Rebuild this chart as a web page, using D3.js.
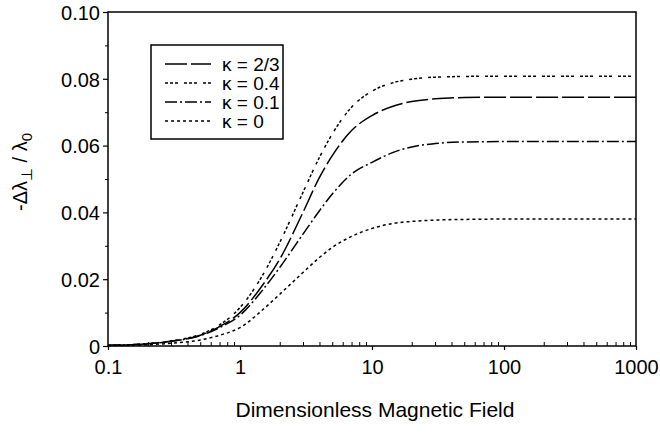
<!DOCTYPE html>
<html>
<head>
<meta charset="utf-8">
<script src="https://cdn.jsdelivr.net/npm/d3@7"></script>
<style>
  body { margin: 0; background: #fff; }
  text { font-family: "Liberation Sans", Arial, sans-serif; fill: #000; }
</style>
</head>
<body>
<div id="chart"></div>
<script>
// ------- data -------------------------------
var fieldValues = [0.1, 0.15, 0.2, 0.3, 0.5, 0.7, 1, 1.5, 2, 3, 4, 5, 7, 10, 15, 20, 30, 50, 100, 200, 500, 1000];

var kappa23 = [0.0002, 0.0004, 0.0007, 0.0014, 0.0032, 0.0058, 0.0100, 0.0185, 0.0260, 0.0400, 0.0505, 0.0570, 0.0645, 0.0690, 0.0720, 0.0732, 0.0740, 0.0744, 0.0745, 0.0745, 0.0745, 0.0745];
var kappa04 = [0.0002, 0.0004, 0.0007, 0.0015, 0.0035, 0.0063, 0.0115, 0.0215, 0.0310, 0.0460, 0.0565, 0.0635, 0.0715, 0.0763, 0.0790, 0.0799, 0.0805, 0.0807, 0.0808, 0.0808, 0.0808, 0.0808];
var kappa01 = [0.0002, 0.0004, 0.0007, 0.0014, 0.0031, 0.0055, 0.0092, 0.0170, 0.0235, 0.0335, 0.0405, 0.0455, 0.0515, 0.0550, 0.0582, 0.0596, 0.0606, 0.0611, 0.0612, 0.0612, 0.0612, 0.0612];
var kappa0  = [0.0001, 0.0002, 0.0004, 0.0008, 0.0018, 0.0032, 0.0055, 0.0110, 0.0155, 0.0220, 0.0265, 0.0295, 0.0328, 0.0352, 0.0368, 0.0373, 0.0377, 0.0379, 0.0380, 0.0380, 0.0380, 0.0380];

var seriesLabels = ['\u03ba = 2/3', '\u03ba = 0.4', '\u03ba = 0.1', '\u03ba = 0'];
var xTickValues = [0.1, 1, 10, 100, 1000];
var xTickLabels = ['0.1', '1', '10', '100', '1000'];
var yTickValues = [0, 0.02, 0.04, 0.06, 0.08, 0.10];
var yTickLabels = ['0', '0.02', '0.04', '0.06', '0.08', '0.10'];

// ------- svg --------
var width = 660, height = 438;
var margin = {left: 108, right: 24, top: 12, bottom: 92};

var svg = d3.select('#chart').append('svg')
    .attr('width', width)
    .attr('height', height)

var x = d3.scaleLog()
    .domain([0.1, 1000])
    .range([margin.left, width - margin.right])
var y = d3.scaleLinear()
    .domain([0, 0.1])
    .range([height - margin.bottom, margin.top])

// minor x ticks (inside)
var xMinor = []
for (var p = -1; p < 3; p++) {
    for (var m = 2; m <= 9; m++) xMinor.push(m * Math.pow(10, p))
}

svg.append('g')
    .attr('transform', 'translate(0,' + y(0) + ')')
    .call(d3.axisTop(x).tickValues(xMinor).tickSize(4).tickFormat(''))
    .call(function(g) { g.select('.domain').remove() })
    .selectAll('line').attr('stroke', '#000').attr('stroke-width', 1)

// y minor ticks
var yMinor = [0.01, 0.03, 0.05, 0.07, 0.09]
svg.append('g')
    .attr('transform', 'translate(' + x(0.1) + ',0)')
    .call(d3.axisLeft(y).tickValues(yMinor).tickSize(3).tickFormat(''))
    .call(function(g) { g.select('.domain').remove() })
    .selectAll('line').attr('stroke', '#000').attr('stroke-width', 1)

// x axis
var xAxis = svg.append('g')
    .attr('transform', 'translate(0,' + y(0) + ')')
    .call(d3.axisBottom(x).tickValues(xTickValues).tickSize(4)
        .tickFormat(function(d, i) { return xTickLabels[i] }))
xAxis.select('.domain').remove()
xAxis.selectAll('line').attr('stroke', '#000').attr('stroke-width', 1.2)
xAxis.selectAll('text')
    .attr('dy', 0)
    .attr('y', 28)
    .style('font-size', '20px')
    .style('font-family', '"Liberation Sans", Arial, sans-serif')
    .attr('fill', '#000')

// y axis
var yAxis = svg.append('g')
    .attr('transform', 'translate(' + x(0.1) + ',0)')
    .call(d3.axisLeft(y).tickValues(yTickValues).tickSize(5)
        .tickFormat(function(d, i) { return yTickLabels[i] }))
yAxis.select('.domain').remove()
yAxis.selectAll('line').attr('stroke', '#000').attr('stroke-width', 1.2)
yAxis.selectAll('text')
    .attr('x', -8)
    .attr('dy', '0.36em')
    .style('font-size', '20px')
    .style('font-family', '"Liberation Sans", Arial, sans-serif')
    .attr('fill', '#000')

// frame
svg.append('rect')
    .attr('x', x(0.1))
    .attr('y', y(0.1))
    .attr('width', x(1000) - x(0.1))
    .attr('height', y(0) - y(0.1))
    .attr('fill', 'none')
    .attr('stroke', '#000')
    .attr('stroke-width', 1.5)

// ------- curves --------
var allSeries = [kappa23, kappa04, kappa01, kappa0]
var dashes = ['22,4', '3,2,3,2,3,6', '12,3,2,3', '3,3']

var line = d3.line()
    .x(function(d, i) { return x(fieldValues[i]) })
    .y(function(d) { return y(d) })
    .curve(d3.curveMonotoneX)

svg.append('g').selectAll('path')
    .data(allSeries)
    .enter()
    .append('path')
    .attr('d', line)
    .attr('fill', 'none')
    .attr('stroke', '#000')
    .attr('stroke-width', 1.5)
    .attr('stroke-dasharray', function(d, i) { return dashes[i] })

// ------- legend --------
var legend = svg.append('g').attr('transform', 'translate(151,45)')
legend.append('rect')
    .attr('width', 132)
    .attr('height', 94)
    .attr('fill', '#fff')
    .attr('stroke', '#000')
    .attr('stroke-width', 1.5)

var row = legend.selectAll('g.row')
    .data(seriesLabels)
    .enter()
    .append('g')
    .attr('class', 'row')
    .attr('transform', function(d, i) { return 'translate(0,' + (19 + i * 19) + ')' })

row.append('line')
    .attr('x1', 14).attr('x2', 60)
    .attr('stroke', '#000')
    .attr('stroke-width', 1.4)
    .attr('stroke-dasharray', function(d, i) { return dashes[i] })

row.append('text')
    .attr('x', 71)
    .attr('dy', '0.36em')
    .style('font-size', '19px')
    .text(function(d) { return d })

// ------- axis titles --------
svg.append('text')
    .attr('x', (x(0.1) + x(1000)) / 2 + 3)
    .attr('y', 417)
    .attr('text-anchor', 'middle')
    .style('font-size', '21px')
    .text('Dimensionless Magnetic Field')

var yTitle = svg.append('text')
    .attr('transform', 'translate(27,' + 172 + ') rotate(-90)')
    .attr('text-anchor', 'middle')
    .style('font-size', '20px')
yTitle.append('tspan').text('-\u0394\u03bb')
yTitle.append('tspan').attr('dy', 5).style('font-size', '15px').text('\u22a5')
yTitle.append('tspan').attr('dy', -5).text(' / \u03bb')
yTitle.append('tspan').attr('dy', 5).style('font-size', '15px').text('0')
</script>
</body>
</html>
